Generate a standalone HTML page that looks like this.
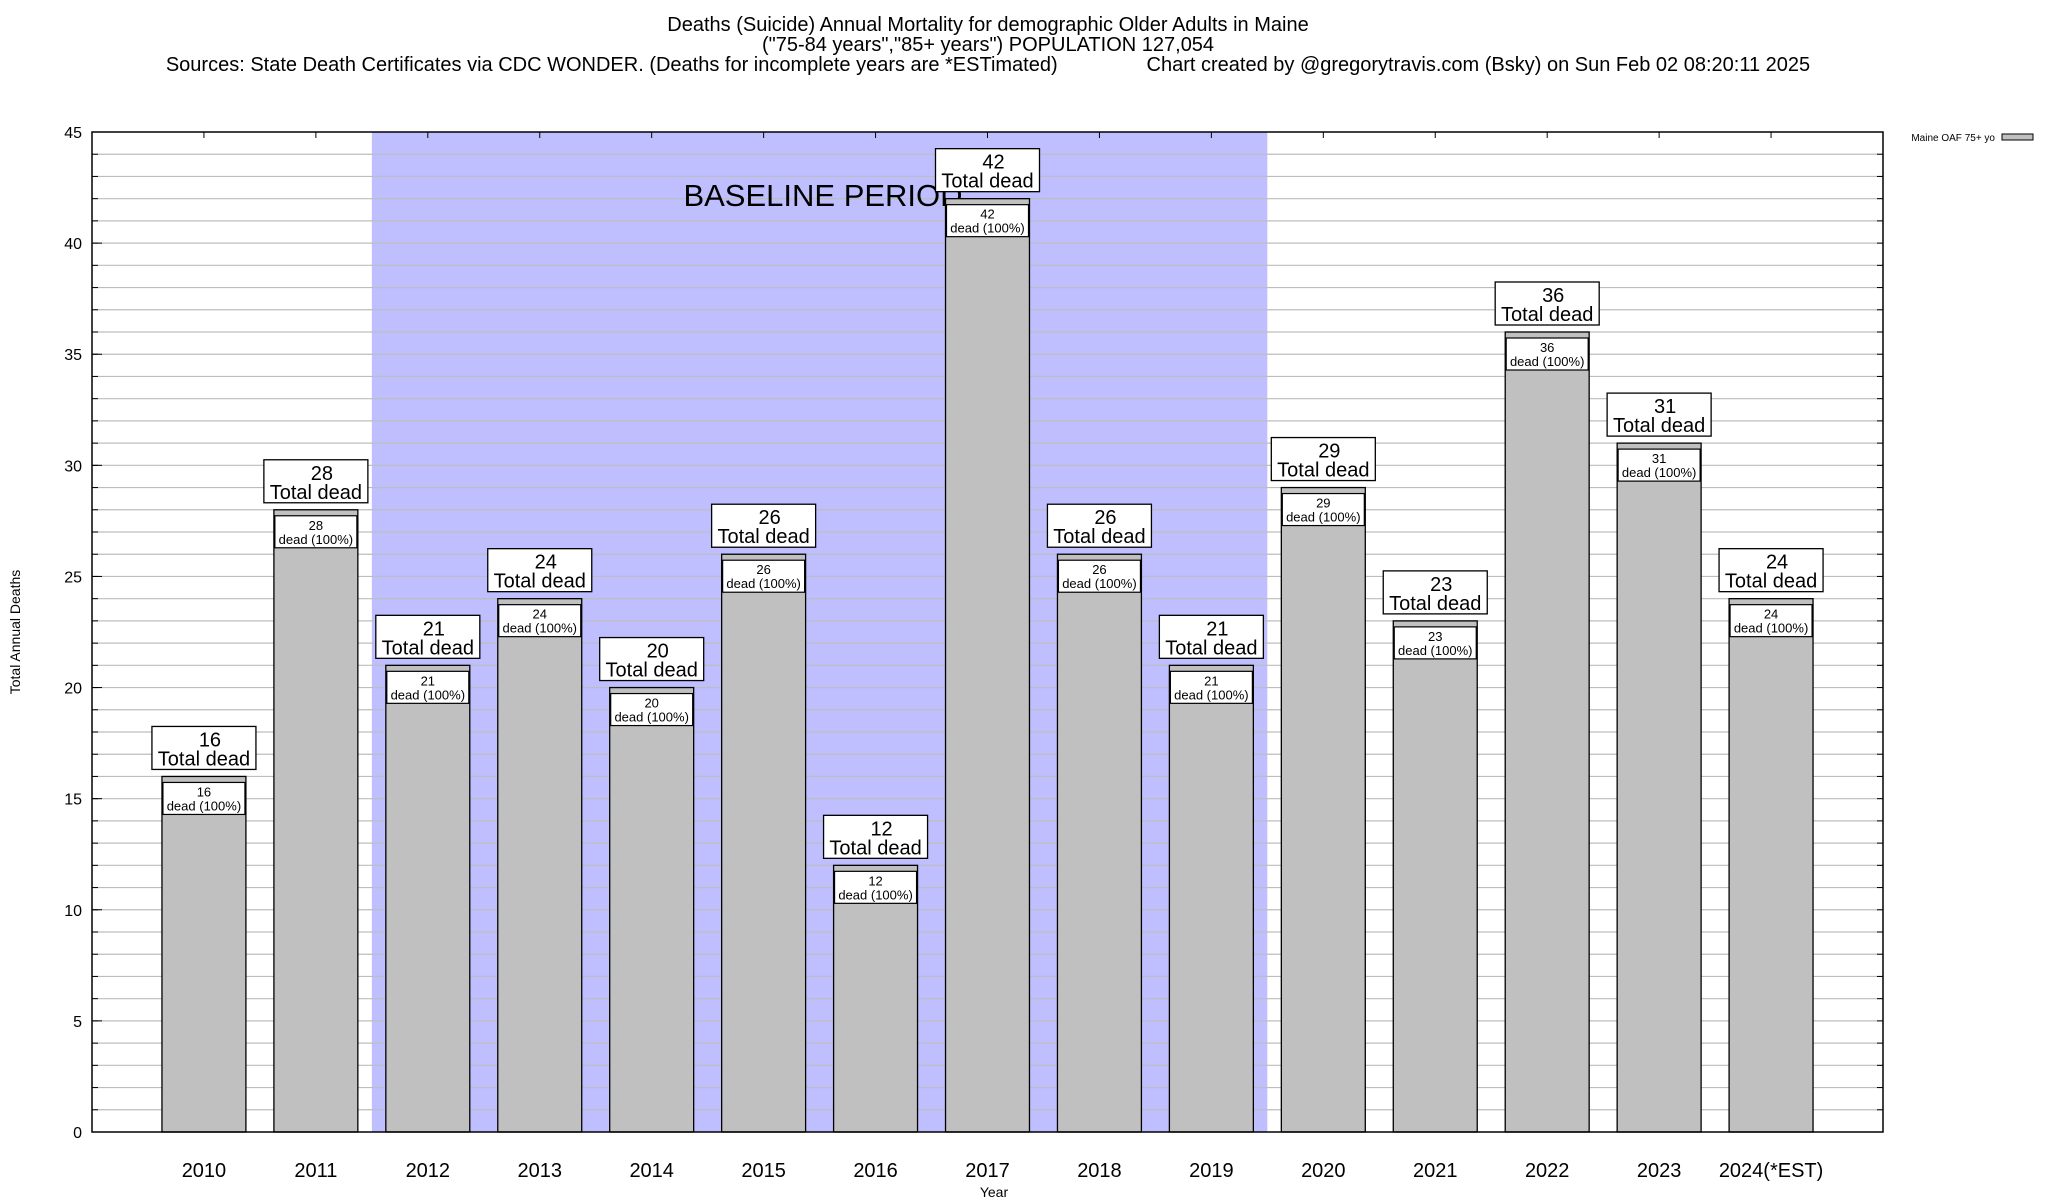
<!DOCTYPE html>
<html><head><meta charset="utf-8">
<style>
html,body{margin:0;padding:0;background:#fff;}
svg{display:block;font-family:"Liberation Sans",Arial,sans-serif;}
</style></head>
<body>
<svg id="chart" width="2048" height="1200" viewBox="0 0 2048 1200">
<g font-size="20" text-anchor="middle" fill="#000">
<text x="988" y="31">Deaths (Suicide) Annual Mortality for demographic Older Adults in Maine</text>
<text x="988" y="51">("75-84 years","85+ years") POPULATION 127,054</text>
<text x="988" y="71" xml:space="preserve">Sources: State Death Certificates via CDC WONDER. (Deaths for incomplete years are *ESTimated)                Chart created by @gregorytravis.com (Bsky) on Sun Feb 02 08:20:11 2025</text>
</g>
<g id="plot"></g>
<text x="994" y="1197" font-size="14" text-anchor="middle">Year</text>
<text transform="translate(20,632) rotate(-90)" font-size="14" text-anchor="middle">Total Annual Deaths</text>
<g>
<text x="1995" y="141" font-size="10" text-anchor="end">Maine OAF 75+ yo</text>
<rect x="2002" y="134" width="31" height="6" fill="#c0c0c0" stroke="#000" stroke-width="1"/>
</g>
</svg>
<script>
const categories = ["2010","2011","2012","2013","2014","2015","2016","2017","2018","2019","2020","2021","2022","2023","2024(*EST)"];
const deaths = [16,28,21,24,20,26,12,42,26,21,29,23,36,31,24];
const yTicks = [0,5,10,15,20,25,30,35,40,45];
const baselineStart = "2012";
const baselineEnd = "2019";

const NS = "http://www.w3.org/2000/svg";
const L = 92, R = 1883, T = 132, B = 1132;
const yMax = 45;
const nSlots = categories.length + 1;
const slot = (R - L) / nSlots;
function xPos(i){ return L + (i + 1) * slot; }
function yPos(v){ return B - v / yMax * (B - T); }
const g = document.getElementById('plot');
function mk(tag, attrs, parent){
  const e = document.createElementNS(NS, tag);
  for (const k in attrs) e.setAttribute(k, attrs[k]);
  (parent || g).appendChild(e);
  return e;
}
const bs = categories.indexOf(baselineStart), be = categories.indexOf(baselineEnd);
const band = mk('rect', {x: xPos(bs) - slot/2, y: T, width: (be - bs + 1) * slot, height: B - T, fill: '#bfbfff'});


for (let v = 1; v < yMax; v++) {
  const ln = mk('line', {x1: L, x2: R, y1: yPos(v), y2: yPos(v), stroke: '#bdbdbd', 'stroke-width': 1.2});
  
  
  const t1 = mk('line', {x1: L, x2: L + 6, y1: yPos(v), y2: yPos(v), stroke: '#000'});
  
  
  const t2 = mk('line', {x1: R - 6, x2: R, y1: yPos(v), y2: yPos(v), stroke: '#000'});
  
  
}
const bt = mk('text', {x: 823, y: 206, 'font-size': 31, 'text-anchor': 'middle'});
bt.textContent = 'BASELINE PERIOD';


yTicks.forEach(v => {
  const t = mk('text', {x: 82, y: yPos(v) + 6, 'font-size': 16, 'text-anchor': 'end'});
  t.textContent = v;
  
  
  const tk = mk('line', {x1: L, x2: L + 10, y1: yPos(v), y2: yPos(v), stroke: '#000'});
  
  
});
const bw = slot * 0.75;
categories.forEach((c, i) => {
  const v = deaths[i], cx = xPos(i), y = yPos(v);
  const bar = mk('rect', {x: cx - bw/2, y: y, width: bw, height: B - y, fill: '#c0c0c0', stroke: '#000', 'stroke-width': 1.3});
  
  
  const ib = mk('rect', {x: cx - 41, y: y + 6, width: 82, height: 32, fill: '#fff', stroke: '#000', 'stroke-width': 1.2});
  
  
  const it1 = mk('text', {x: cx, y: y + 20, 'font-size': 13, 'text-anchor': 'middle'});
  it1.textContent = v;
  
  
  const it2 = mk('text', {x: cx, y: y + 34, 'font-size': 13, 'text-anchor': 'middle'});
  it2.textContent = 'dead (100%)';
  
  
  const ob = mk('rect', {x: cx - 52, y: y - 50, width: 104, height: 43, fill: '#fff', stroke: '#000', 'stroke-width': 1.3});
  
  
  const ot1 = mk('text', {x: cx + 6, y: y - 30, 'font-size': 20, 'text-anchor': 'middle'});
  ot1.textContent = v;
  
  
  const ot2 = mk('text', {x: cx, y: y - 11, 'font-size': 20, 'text-anchor': 'middle'});
  ot2.textContent = 'Total dead';
  
  
  const xl = mk('text', {x: cx, y: 1177, 'font-size': 20, 'text-anchor': 'middle'});
  xl.textContent = c;
  
  
  const xt = mk('line', {x1: cx, x2: cx, y1: T, y2: T + 6, stroke: '#000'});
  
  
});
const fr = mk('rect', {x: L, y: T, width: R - L, height: B - T, fill: 'none', stroke: '#000', 'stroke-width': 1.5});


</script>
</body></html>
